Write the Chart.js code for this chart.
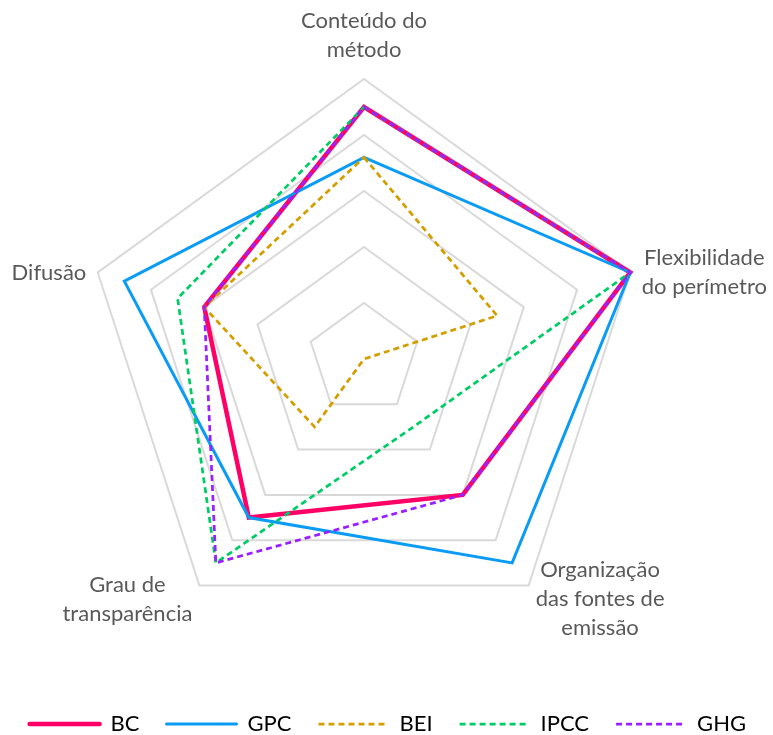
<!DOCTYPE html>
<html>
<head>
<meta charset="utf-8">
<script src="https://cdn.jsdelivr.net/npm/chart.js@4/dist/chart.umd.min.js"></script>
<style>
  html, body { margin: 0; padding: 0; background: #fff; }
</style>
</head>
<body>
<canvas id="radarChart" width="773" height="735"></canvas>
<script>
var criterios = [
  ['Conteúdo do', 'método'],
  ['Flexibilidade', 'do perímetro'],
  ['Organização', 'das fontes de', 'emissão'],
  ['Grau de', 'transparência'],
  'Difusão'
];

var bc   = [4.5, 5, 3,   3.5, 3];
var gpc  = [3.6, 5, 4.5, 3.5, 4.5];
var bei  = [3.6, 2.5, 0, 1.5, 3];
var ipcc = [4.5, 5, 1.5, 4.5, 3.5];
var ghg  = [4.5, 5, 3,   4.5, 3];

var fonte = 'Lato, "Open Sans", sans-serif';

function serie(label, data, cor, largura, tracejado, ordem)
{
  return {
    label           : label,
    data            : data,
    borderColor     : cor,
    backgroundColor : 'rgba(0,0,0,0)',
    borderWidth     : largura,
    borderDash      : tracejado,
    fill            : false,
    pointRadius     : 0,
    pointHoverRadius: 0,
    order           : ordem
  };
}

// rotulos dos eixos desenhados a moda do Excel (lado, centrados na ponta)
var rotulosPlugin = {
  id: 'rotulos',
  afterDraw: function(chart) {
    var scale = chart.scales.r;
    var ctx = chart.ctx;
    var altura = 29, capa = 16, folga = 12;
    ctx.save();
    ctx.font = '22px ' + fonte;
    ctx.fillStyle = '#595959';
    ctx.textAlign = 'center';
    ctx.textBaseline = 'alphabetic';
    criterios.forEach(function(rotulo, i) {
      var linhas = [].concat(rotulo);
      var p = scale.getPointPosition(i, scale.drawingArea + folga);
      var larg = Math.max.apply(null, linhas.map(function(t) { return ctx.measureText(t).width; }));
      var cx, b1;
      if (Math.abs(p.x - scale.xCenter) < 1) {
        cx = p.x;
        b1 = p.y - 10 - (linhas.length - 1) * altura;
      } else {
        cx = p.x > scale.xCenter ? p.x + larg / 2 : p.x - larg / 2;
        b1 = p.y + 3 - ((linhas.length - 1) * altura - capa) / 2;
      }
      linhas.forEach(function(t, k) {
        ctx.fillText(t, cx, b1 + k * altura);
      });
    });
    ctx.restore();
  }
};

var radarData = {
  labels  : criterios,
  datasets: [
    serie('BC',   bc,   '#FF0066', 4.5,  [],     5),
    serie('GPC',  gpc,  '#0A9BF5', 3,    [],     4),
    serie('BEI',  bei,  '#D39E00', 2.75, [6, 4], 3),
    serie('IPCC', ipcc, '#00CC66', 2.75, [6, 4], 2),
    serie('GHG',  ghg,  '#9B20FF', 2.75, [6, 4], 1)
  ]
};

var radarOptions = {
  responsive: false,
  animation : false,
  events    : [],
  layout    : { padding: { top: 79, left: 0, right: 0, bottom: -10 } },
  scales: {
    r: {
      min: 0,
      max: 5,
      ticks      : { stepSize: 1, display: false },
      angleLines : { display: false },
      grid       : { color: '#D9D9D9', lineWidth: 2 },
      pointLabels: { display: false }
    }
  },
  plugins: {
    // titulo vazio a direita: so reserva espaco para deslocar o radar
    title: {
      display : true,
      position: 'right',
      text    : '',
      font    : { size: 10, lineHeight: 1 },
      padding : { top: 17.5, bottom: 17.5 }
    },
    legend: {
      position: 'bottom',
      align   : 'end',
      title   : { display: true, text: '', font: { size: 10, lineHeight: 1 }, padding: { top: 37, bottom: 0 } },
      labels: {
        usePointStyle  : true,
        pointStyle     : 'line',
        pointStyleWidth: 70,
        padding        : 27,
        color          : '#000',
        font           : { family: fonte, size: 22 },
        sort           : function(a, b) { return a.datasetIndex - b.datasetIndex; },
        generateLabels : function(chart) {
          var itens = Chart.defaults.plugins.legend.labels.generateLabels(chart);
          itens.forEach(function(item) {
            var ds = chart.data.datasets[item.datasetIndex];
            item.lineDash    = ds.borderDash;
            item.lineWidth   = ds.borderWidth;
            item.strokeStyle = ds.borderColor;
            item.lineCap     = ds.borderDash.length ? 'butt' : 'round';
          });
          return itens;
        }
      }
    },
    tooltip: { enabled: false }
  }
};

var ctx = document.getElementById('radarChart').getContext('2d');
var radarChart = new Chart(ctx, {
  type   : 'radar',
  data   : radarData,
  options: radarOptions,
  plugins: [rotulosPlugin]
});
</script>
</body>
</html>
